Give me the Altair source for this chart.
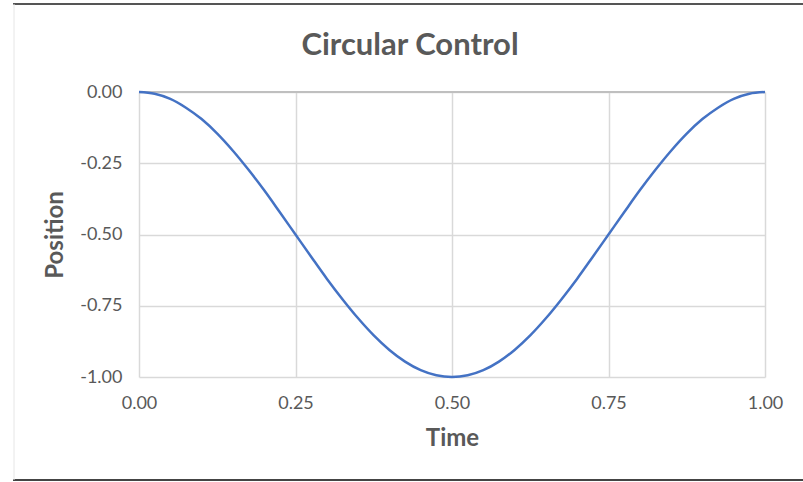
import altair as alt
import pandas as pd

time = [0.000, 0.025, 0.050, 0.075, 0.100, 0.125, 0.150, 0.175, 0.200, 0.225,
        0.250, 0.275, 0.300, 0.325, 0.350, 0.375, 0.400, 0.425, 0.450, 0.475,
        0.500, 0.525, 0.550, 0.575, 0.600, 0.625, 0.650, 0.675, 0.700, 0.725,
        0.750, 0.775, 0.800, 0.825, 0.850, 0.875, 0.900, 0.925, 0.950, 0.975, 1.000]
position = [0.000, -0.006, -0.024, -0.055, -0.095, -0.146, -0.206, -0.273, -0.345, -0.422,
            -0.500, -0.578, -0.655, -0.727, -0.794, -0.854, -0.905, -0.946, -0.976, -0.994,
            -1.000, -0.994, -0.976, -0.946, -0.905, -0.854, -0.794, -0.727, -0.655, -0.578,
            -0.500, -0.422, -0.345, -0.273, -0.206, -0.146, -0.095, -0.055, -0.024, -0.006, 0.000]
x_ticks = [0, 0.25, 0.5, 0.75, 1.0]
y_ticks = [0, -0.25, -0.5, -0.75, -1.0]
title_text = ["Circular Control"]

df = pd.DataFrame({"Time": time, "Position": position})

FONT = "Lato"
GREY = "#595959"
HYPHEN = "replace(datum.label, '\u2212', '-')"

xs = alt.Scale(domain=[0, 1], nice=False, zero=False)
ys = alt.Scale(domain=[-1, 0], nice=False, zero=False)

line = alt.Chart(df).mark_line(color="#4472C4", strokeWidth=2.5, interpolate="monotone").encode(
    x=alt.X("Time:Q", scale=xs,
            axis=alt.Axis(values=x_ticks, format=".2f", title="Time", grid=True,
                          gridColor="#d9d9d9", gridWidth=1.5, domain=False, ticks=False,
                          labelFont=FONT, labelFontSize=18, labelColor=GREY, labelPadding=17,
                          labelExpr=HYPHEN, labelFlush=False, labelOverlap=False,
                          titleFont=FONT, titleFontSize=24, titleColor=GREY, titleFontWeight="bold",
                          titlePadding=14)),
    y=alt.Y("Position:Q", scale=ys,
            axis=alt.Axis(values=y_ticks, format=".2f", title="Position", grid=True,
                          gridColor="#d9d9d9", gridWidth=1.5, domain=False, ticks=False,
                          labelFont=FONT, labelFontSize=18, labelColor=GREY, labelPadding=17,
                          labelExpr=HYPHEN, labelFlush=False, labelOverlap=False,
                          titleFont=FONT, titleFontSize=24, titleColor=GREY, titleFontWeight="bold",
                          titlePadding=12)),
)

zero_line = alt.Chart(pd.DataFrame({"y": [0]})).mark_rule(color="#bfbfbf", strokeWidth=2).encode(
    y=alt.Y("y:Q", scale=ys)
)

title = alt.Chart(pd.DataFrame({"t": title_text})).mark_text(
    font=FONT, fontSize=31, fontWeight="bold", color=GREY, align="center", baseline="middle"
).encode(text="t:N", x=alt.value(271), y=alt.value(-46))

frame_top = alt.Chart(pd.DataFrame({"a": [0]})).mark_rule(color="#555555", strokeWidth=2).encode(
    x=alt.value(-126), x2=alt.value(664), y=alt.value(-88))
frame_bottom = alt.Chart(pd.DataFrame({"a": [0]})).mark_rule(color="#444444", strokeWidth=2).encode(
    x=alt.value(-126), x2=alt.value(664), y=alt.value(388))
frame_left = alt.Chart(pd.DataFrame({"a": [0]})).mark_rule(color="#e6e6e6", strokeWidth=1).encode(
    x=alt.value(-125), y=alt.value(-88), y2=alt.value(388))

chart = alt.layer(zero_line, line, title, frame_top, frame_bottom, frame_left).properties(
    width=626, height=285,
    padding={"left": 139, "top": 92, "right": 38, "bottom": 105},
    autosize=alt.AutoSizeParams(type="none"),
    background="white",
).configure_view(stroke=None)

chart.save("out.html", embed_options={"renderer": "svg", "actions": False})
